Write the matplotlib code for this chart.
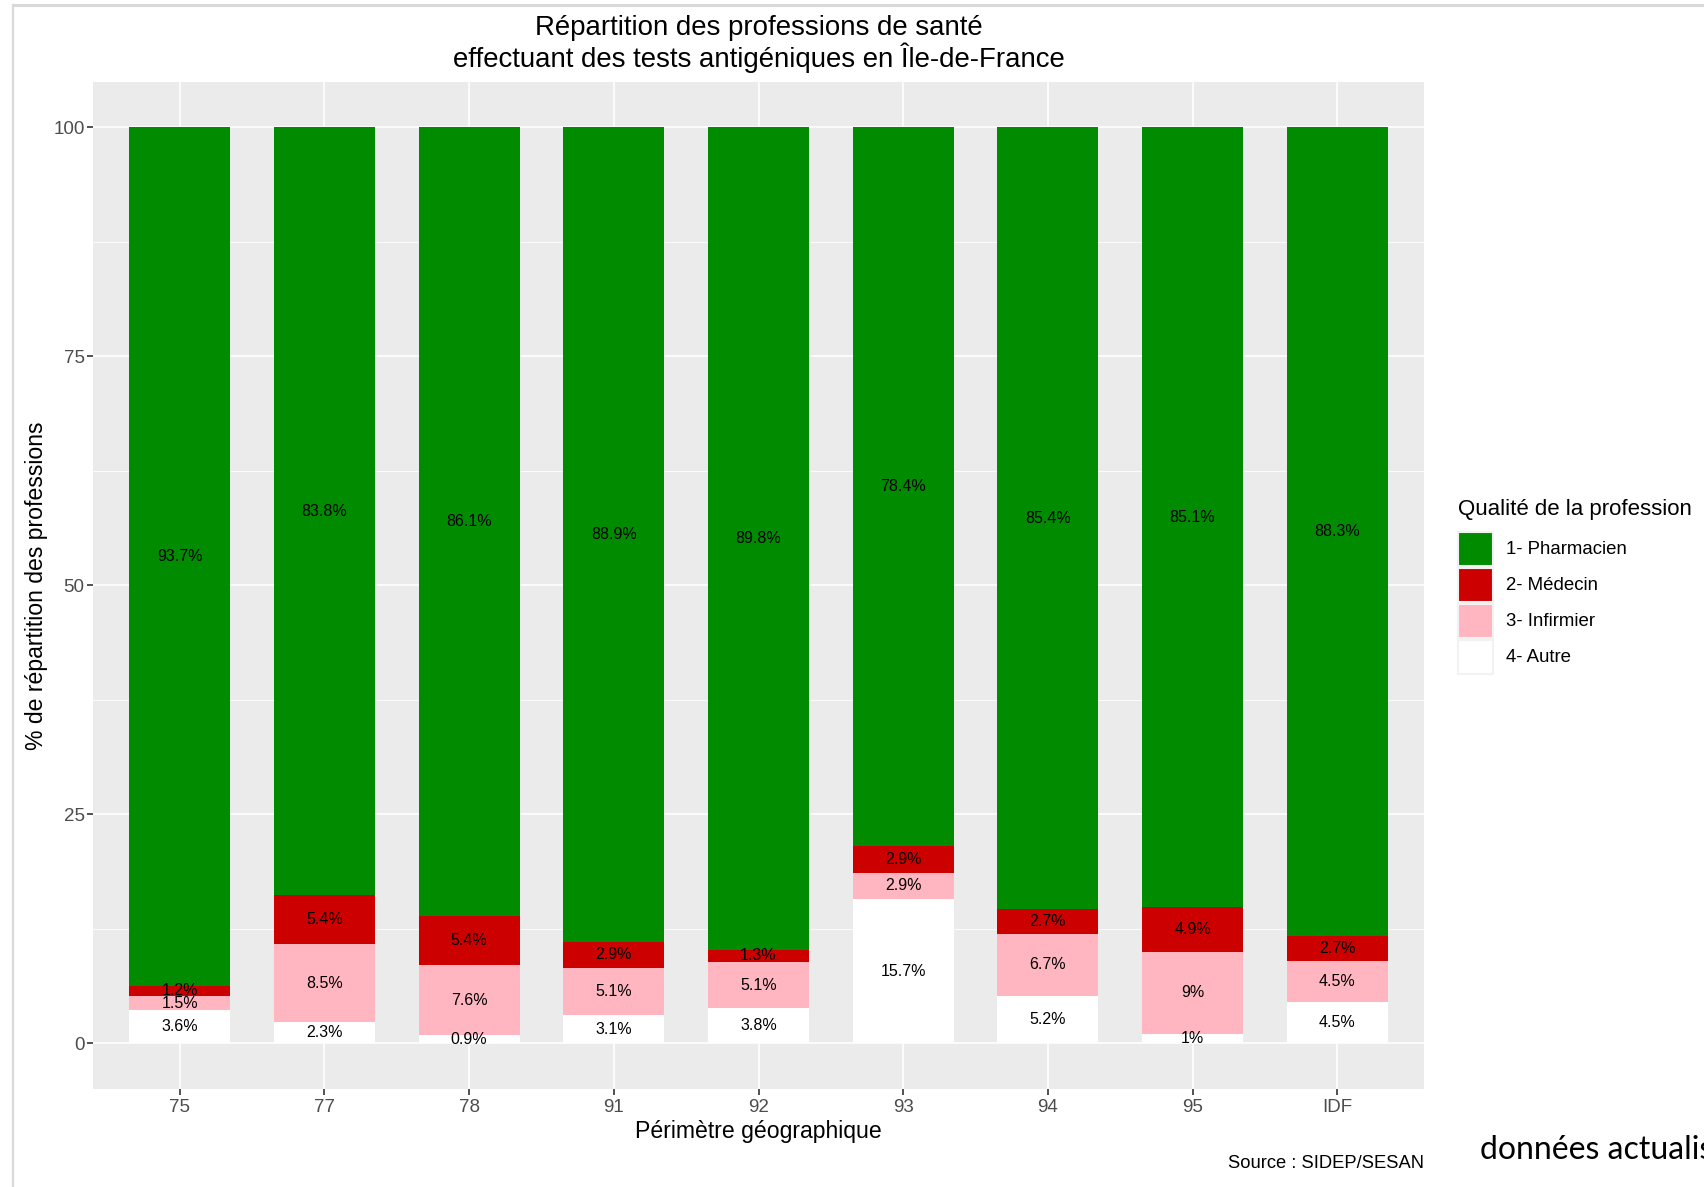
# Répartition des professions de santé - tests antigéniques IDF

import numpy as np
import matplotlib.pyplot as plt
from matplotlib.patches import Rectangle
from matplotlib.lines import Line2D

plt.rcParams['font.family'] = ['Liberation Sans', 'DejaVu Sans']

# Data (% per profession, by geographic area)
zones = ['75', '77', '78', '91', '92', '93', '94', '95', 'IDF']
autre = [3.6, 2.3, 0.9, 3.1, 3.8, 15.7, 5.2, 1.0, 4.5]
infirmier = [1.5, 8.5, 7.6, 5.1, 5.1, 2.9, 6.7, 9.0, 4.5]
medecin = [1.2, 5.4, 5.4, 2.9, 1.3, 2.9, 2.7, 4.9, 2.7]
pharmacien = [93.7, 83.8, 86.1, 88.9, 89.8, 78.4, 85.4, 85.1, 88.3]

series = [
    ('1- Pharmacien', pharmacien, '#008B00'),
    ('2- Médecin', medecin, '#CD0000'),
    ('3- Infirmier', infirmier, '#FFB6C1'),
    ('4- Autre', autre, '#FFFFFF'),
]

W, H = 1704, 1187
fig = plt.figure(figsize=(W / 100, H / 100), dpi=100)

# screenshot frame
fig.add_artist(Line2D([12.5 / W, 12.5 / W], [0, 1 - 4.5 / H], color='#D9D9D9', lw=1.6))
fig.add_artist(Line2D([12.5 / W, 1], [1 - 4.5 / H, 1 - 4.5 / H], color='#D9D9D9', lw=2.2))

left, right, top, bottom = 93, 1424, 81.5, 1089
ax = fig.add_axes([left / W, 1 - bottom / H, (right - left) / W, (bottom - top) / H])
ax.set_facecolor('#EBEBEB')
for s in ax.spines.values():
    s.set_visible(False)

x = np.arange(1, len(zones) + 1)
ax.set_xlim(0.4, len(zones) + 0.6)
ax.set_ylim(-5, 105)

# grid
for y in [12.5, 37.5, 62.5, 87.5]:
    ax.axhline(y, color='white', lw=0.6, zorder=0)
for y in [0, 25, 50, 75, 100]:
    ax.axhline(y, color='white', lw=1.2, zorder=0)
for xi in x:
    ax.axvline(xi, color='white', lw=1.2, zorder=0)

# stacked bars (position fill), bottom = Autre
totals = np.sum([np.array(v) for _, v, _ in series], axis=0)
bottoms = np.zeros(len(zones))
for name, vals, col in reversed(series):
    vals = np.array(vals)
    h = vals / totals * 100
    ax.bar(x, h, width=0.7, bottom=bottoms, color=col, zorder=2)
    for xi, b, hh, v in zip(x, bottoms, h, vals):
        ax.text(xi, b + hh / 2, f'{v:g}%', ha='center', va='center', fontsize=11.5,
                color='black', zorder=3)
    bottoms += h

ax.set_xticks(x)
ax.set_xticklabels(zones)
ax.set_yticks([0, 25, 50, 75, 100])
ax.tick_params(axis='both', colors='#333333', labelcolor='#4D4D4D', labelsize=13.5,
               length=4, width=1.2)
ax.tick_params(axis='y', pad=2)
ax.tick_params(axis='x', pad=3)

ax.set_xlabel('Périmètre géographique', fontsize=16.6, labelpad=3)
ax.set_ylabel('% de répartition des professions', fontsize=16.6, labelpad=4)

fig.text((left + right) / 2 / W, 1 - 44 / H,
         'Répartition des professions de santé\neffectuant des tests antigéniques en Île-de-France',
         ha='center', va='center', fontsize=19.9, linespacing=1.05)

# legend (ggplot style, drawn by hand)
fig.text(1458 / W, 1 - 509 / H, 'Qualité de la profession', ha='left', va='center',
         fontsize=16)
key_top = 532
for i, (name, vals, col) in enumerate(series):
    y0 = key_top + i * 36
    fig.add_artist(Rectangle((1458 / W, 1 - (y0 + 34) / H), 35 / W, 34 / H,
                             facecolor=col, edgecolor='#F2F2F2', lw=1.5,
                             transform=fig.transFigure))
    fig.text(1506 / W, 1 - (y0 + 17) / H, name, ha='left', va='center', fontsize=13.4)

fig.text(right / W, 1 - 1164 / H, 'Source : SIDEP/SESAN', ha='right', va='center',
         fontsize=13.2)
fig.text(1480 / W, 1 - 1150 / H, 'données actualisées', ha='left', va='center',
         fontsize=23, family=['Lato', 'DejaVu Sans'])

fig.savefig('out.png', dpi=100)
